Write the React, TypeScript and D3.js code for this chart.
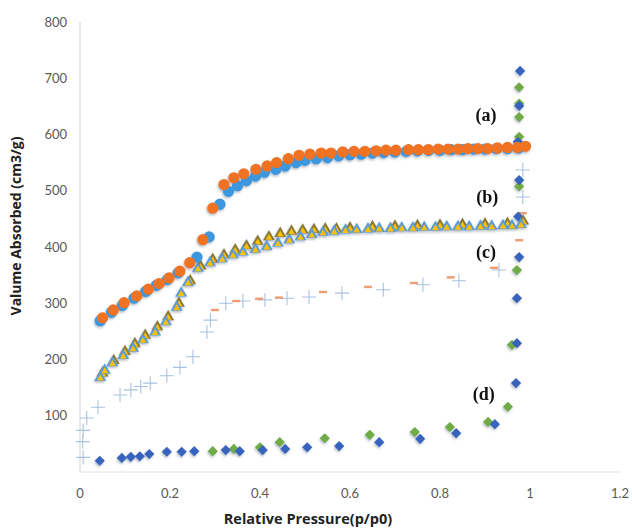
import React from "react";
import * as d3 from "d3";

type P = [number, number];

// (a) orange circles
const seriesA1: P[] = [
  [0.05, 274], [0.074, 288], [0.098, 301], [0.126, 313], [0.152, 325], [0.176, 335],
  [0.198, 345], [0.222, 357], [0.244, 372], [0.273, 413], [0.295, 469], [0.32, 511],
  [0.342, 523], [0.364, 530], [0.391, 538], [0.416, 544], [0.437, 550], [0.463, 557],
  [0.487, 563], [0.511, 565], [0.536, 567], [0.558, 567], [0.584, 569], [0.609, 570],
  [0.633, 570], [0.658, 571], [0.68, 572], [0.702, 572], [0.73, 573], [0.752, 573],
  [0.774, 573], [0.796, 574], [0.818, 574], [0.84, 574], [0.862, 575], [0.884, 575],
  [0.906, 575], [0.928, 576], [0.95, 577], [0.972, 577], [0.99, 579],
];
// (a) blue circles
const seriesA2: P[] = [
  [0.045, 269], [0.07, 284], [0.094, 296], [0.12, 309], [0.146, 321], [0.17, 332],
  [0.194, 342], [0.218, 354], [0.26, 382], [0.287, 418], [0.311, 476], [0.33, 499],
  [0.35, 509], [0.37, 518], [0.39, 526], [0.41, 533], [0.435, 538], [0.456, 544],
  [0.48, 550], [0.5, 554], [0.525, 557], [0.55, 559], [0.575, 562], [0.6, 564],
  [0.625, 565], [0.65, 567], [0.675, 568], [0.7, 569], [0.725, 570], [0.75, 571],
  [0.775, 572], [0.8, 572], [0.825, 573], [0.85, 573], [0.875, 574], [0.9, 574],
  [0.925, 575], [0.95, 575], [0.975, 576],
];
// (b) blue triangles
const seriesB1: P[] = [
  [0.045, 168], [0.055, 181], [0.072, 194], [0.096, 207], [0.118, 220], [0.14, 235],
  [0.167, 249], [0.191, 267], [0.215, 293], [0.225, 318], [0.24, 337], [0.262, 362],
  [0.289, 372], [0.316, 379], [0.34, 386], [0.362, 391], [0.39, 396], [0.415, 401],
  [0.44, 407], [0.465, 413], [0.49, 418], [0.515, 422], [0.54, 426], [0.565, 428],
  [0.59, 430], [0.615, 431], [0.64, 432], [0.665, 433], [0.69, 433], [0.715, 434],
  [0.74, 434], [0.765, 435], [0.79, 435], [0.815, 436], [0.84, 436], [0.865, 436],
  [0.89, 437], [0.915, 437], [0.94, 438], [0.96, 438], [0.98, 440],
];
// (b) yellow triangles
const seriesB2: P[] = [
  [0.05, 176], [0.075, 198], [0.1, 214], [0.122, 228], [0.145, 243], [0.172, 258],
  [0.196, 276], [0.22, 300], [0.245, 340], [0.268, 366], [0.295, 378], [0.32, 386],
  [0.345, 395], [0.37, 402], [0.395, 410], [0.42, 418], [0.445, 424], [0.47, 428],
  [0.495, 430], [0.52, 431], [0.545, 432], [0.57, 432], [0.6, 434], [0.65, 436],
  [0.7, 437], [0.75, 438], [0.8, 439], [0.85, 440], [0.9, 441], [0.95, 442], [0.985, 446],
];
// (c) light blue crosses
const seriesC1: P[] = [
  [0.007, 26], [0.006, 54], [0.007, 74], [0.015, 96], [0.04, 115], [0.089, 137],
  [0.113, 146], [0.135, 152], [0.156, 158], [0.193, 171], [0.222, 186], [0.251, 205],
  [0.282, 249], [0.29, 270], [0.324, 300], [0.362, 304], [0.411, 306], [0.46, 309],
  [0.509, 311], [0.582, 318], [0.674, 324], [0.762, 333], [0.842, 340], [0.931, 359],
  [0.984, 489], [0.984, 537],
];
// (c) orange dashes
const seriesC2: P[] = [
  [0.3, 288], [0.347, 304], [0.398, 308], [0.442, 310], [0.54, 320], [0.64, 329],
  [0.742, 336], [0.824, 346], [0.92, 363], [0.976, 412], [0.984, 460],
];
// (d) blue diamonds
const seriesD1: P[] = [
  [0.044, 20], [0.093, 25], [0.113, 27], [0.133, 28], [0.154, 32], [0.193, 36],
  [0.226, 36], [0.254, 37], [0.324, 39], [0.355, 37], [0.406, 39], [0.456, 41],
  [0.505, 44], [0.576, 46], [0.665, 53], [0.756, 59], [0.836, 69], [0.922, 85],
  [0.969, 158], [0.971, 229], [0.971, 309], [0.976, 382], [0.974, 454], [0.976, 519],
  [0.973, 587], [0.976, 651], [0.978, 713],
];
// (d) green diamonds
const seriesD2: P[] = [
  [0.295, 37], [0.342, 41], [0.4, 44], [0.444, 53], [0.544, 60], [0.644, 66],
  [0.744, 71], [0.822, 80], [0.907, 89], [0.951, 116], [0.96, 226], [0.971, 359],
  [0.976, 508], [0.976, 596], [0.976, 631], [0.976, 655], [0.976, 684],
];

const xTicks = [0, 0.2, 0.4, 0.6, 0.8, 1, 1.2];
const yTicks = [100, 200, 300, 400, 500, 600, 700, 800];
const xTickLabels = ["0", "0.2", "0.4", "0.6", "0.8", "1", "1.2"];

const annotations: { text: string; x: number; y: number }[] = [
  { text: "(a)", x: 0.902, y: 635 },
  { text: "(b)", x: 0.905, y: 489 },
  { text: "(c)", x: 0.902, y: 391 },
  { text: "(d)", x: 0.897, y: 139 },
];

const W = 632;
const H = 530;
const x = d3.scaleLinear().domain([0, 1.2]).range([80, 620]);
const y = d3.scaleLinear().domain([0, 800]).range([472, 22]);

const circlePath = d3.symbol(d3.symbolCircle, 100)()!;
const triPath = d3.symbol(d3.symbolTriangle, 62)()!;
const triSmall = d3.symbol(d3.symbolTriangle, 20)()!;
const diamondPath = d3.symbol(d3.symbolSquare, 52)()!;

export default function App() {
  const tickFont = "Lato, 'Open Sans', sans-serif";
  const titleFont = "'Open Sans', 'DejaVu Sans', sans-serif";
  return (
    <svg width={W} height={H} style={{ position: "absolute", left: 0, top: 0, background: "#fff" }}>
      <defs>
        <filter id="sh" x="-50%" y="-50%" width="200%" height="200%">
          <feDropShadow dx="-0.8" dy="1.6" stdDeviation="1" floodColor="#5a6a80" floodOpacity="0.45" />
        </filter>
      </defs>
      {/* axes */}
      <line x1={x(0)} x2={x(0)} y1={y(800)} y2={y(0)} stroke="#d9d9d9" strokeWidth={1.2} />
      <line x1={x(0)} x2={x(1.2)} y1={y(0)} y2={y(0)} stroke="#e3e3e3" strokeWidth={1.2} />
      {yTicks.map((t) => (
        <text key={t} x={67} y={y(t)} dy="0.35em" textAnchor="end" fontFamily={tickFont} fontSize={13} fill="#595959">
          {t}
        </text>
      ))}
      {xTicks.map((t, i) => (
        <text key={t} x={x(t)} y={498} textAnchor="middle" fontFamily={tickFont} fontSize={13} fill="#595959">
          {xTickLabels[i]}
        </text>
      ))}
      <text
        transform={`translate(21,${226}) rotate(-90)`}
        textAnchor="middle"
        fontFamily={titleFont}
        fontWeight="bold"
        fontSize={14}
        fill="#222"
      >
        Valume Absorbed (cm3/g)
      </text>
      <text x={308} y={524} textAnchor="middle" fontFamily={titleFont} fontWeight="bold" fontSize={14.5} fill="#222">
        Relative Pressure(p/p0)
      </text>

      {/* (c) crosses and dashes */}
      {seriesC1.map(([a, b], i) => (
        <path key={"c1" + i} d="M-7,0H7M0,-7V7" transform={`translate(${x(a)},${y(b)})`} stroke="#a9c1e0" strokeWidth={1.1} fill="none" />
      ))}
      {seriesC2.map(([a, b], i) => (
        <path key={"c2" + i} d="M-4,0H4" transform={`translate(${x(a)},${y(b)})`} stroke="#ee9c72" strokeWidth={2.4} fill="none" />
      ))}

      {/* (d) diamonds */}
      <g filter="url(#sh)">
        {seriesD2.map(([a, b], i) => (
          <path key={"d2" + i} d={diamondPath} transform={`translate(${x(a)},${y(b)}) rotate(45)`} fill="#6fab45" />
        ))}
        {seriesD1.map(([a, b], i) => (
          <path key={"d1" + i} d={diamondPath} transform={`translate(${x(a)},${y(b)}) rotate(45)`} fill="#3864bd" />
        ))}
      </g>

      {/* (b) triangles */}
      <g filter="url(#sh)">
        {seriesB2.map(([a, b], i) => (
          <g key={"b2" + i} transform={`translate(${x(a)},${y(b)})`}>
            <path d={triPath} fill="#8a7a3a" />
            <path d={triSmall} fill="#ffc000" transform="translate(0,1)" />
          </g>
        ))}
        {seriesB1.map(([a, b], i) => (
          <g key={"b1" + i} transform={`translate(${x(a)},${y(b)})`}>
            <path d={triPath} fill="#5b9bd5" />
            <path d={triSmall} fill="#ffc000" transform="translate(0,1)" />
          </g>
        ))}
      </g>

      {/* (a) circles */}
      <g filter="url(#sh)">
        {seriesA2.map(([a, b], i) => (
          <path key={"a2" + i} d={circlePath} transform={`translate(${x(a)},${y(b)})`} fill="#3d97de" />
        ))}
        {seriesA1.map(([a, b], i) => (
          <path key={"a1" + i} d={circlePath} transform={`translate(${x(a)},${y(b)})`} fill="#ef7322" />
        ))}
      </g>

      {annotations.map((n) => (
        <text key={n.text} x={x(n.x)} y={y(n.y)} dy="0.35em" textAnchor="middle" fontFamily="'Liberation Serif', 'DejaVu Serif', serif" fontWeight="bold" fontSize={18} fill="#111">
          {n.text}
        </text>
      ))}
    </svg>
  );
}
